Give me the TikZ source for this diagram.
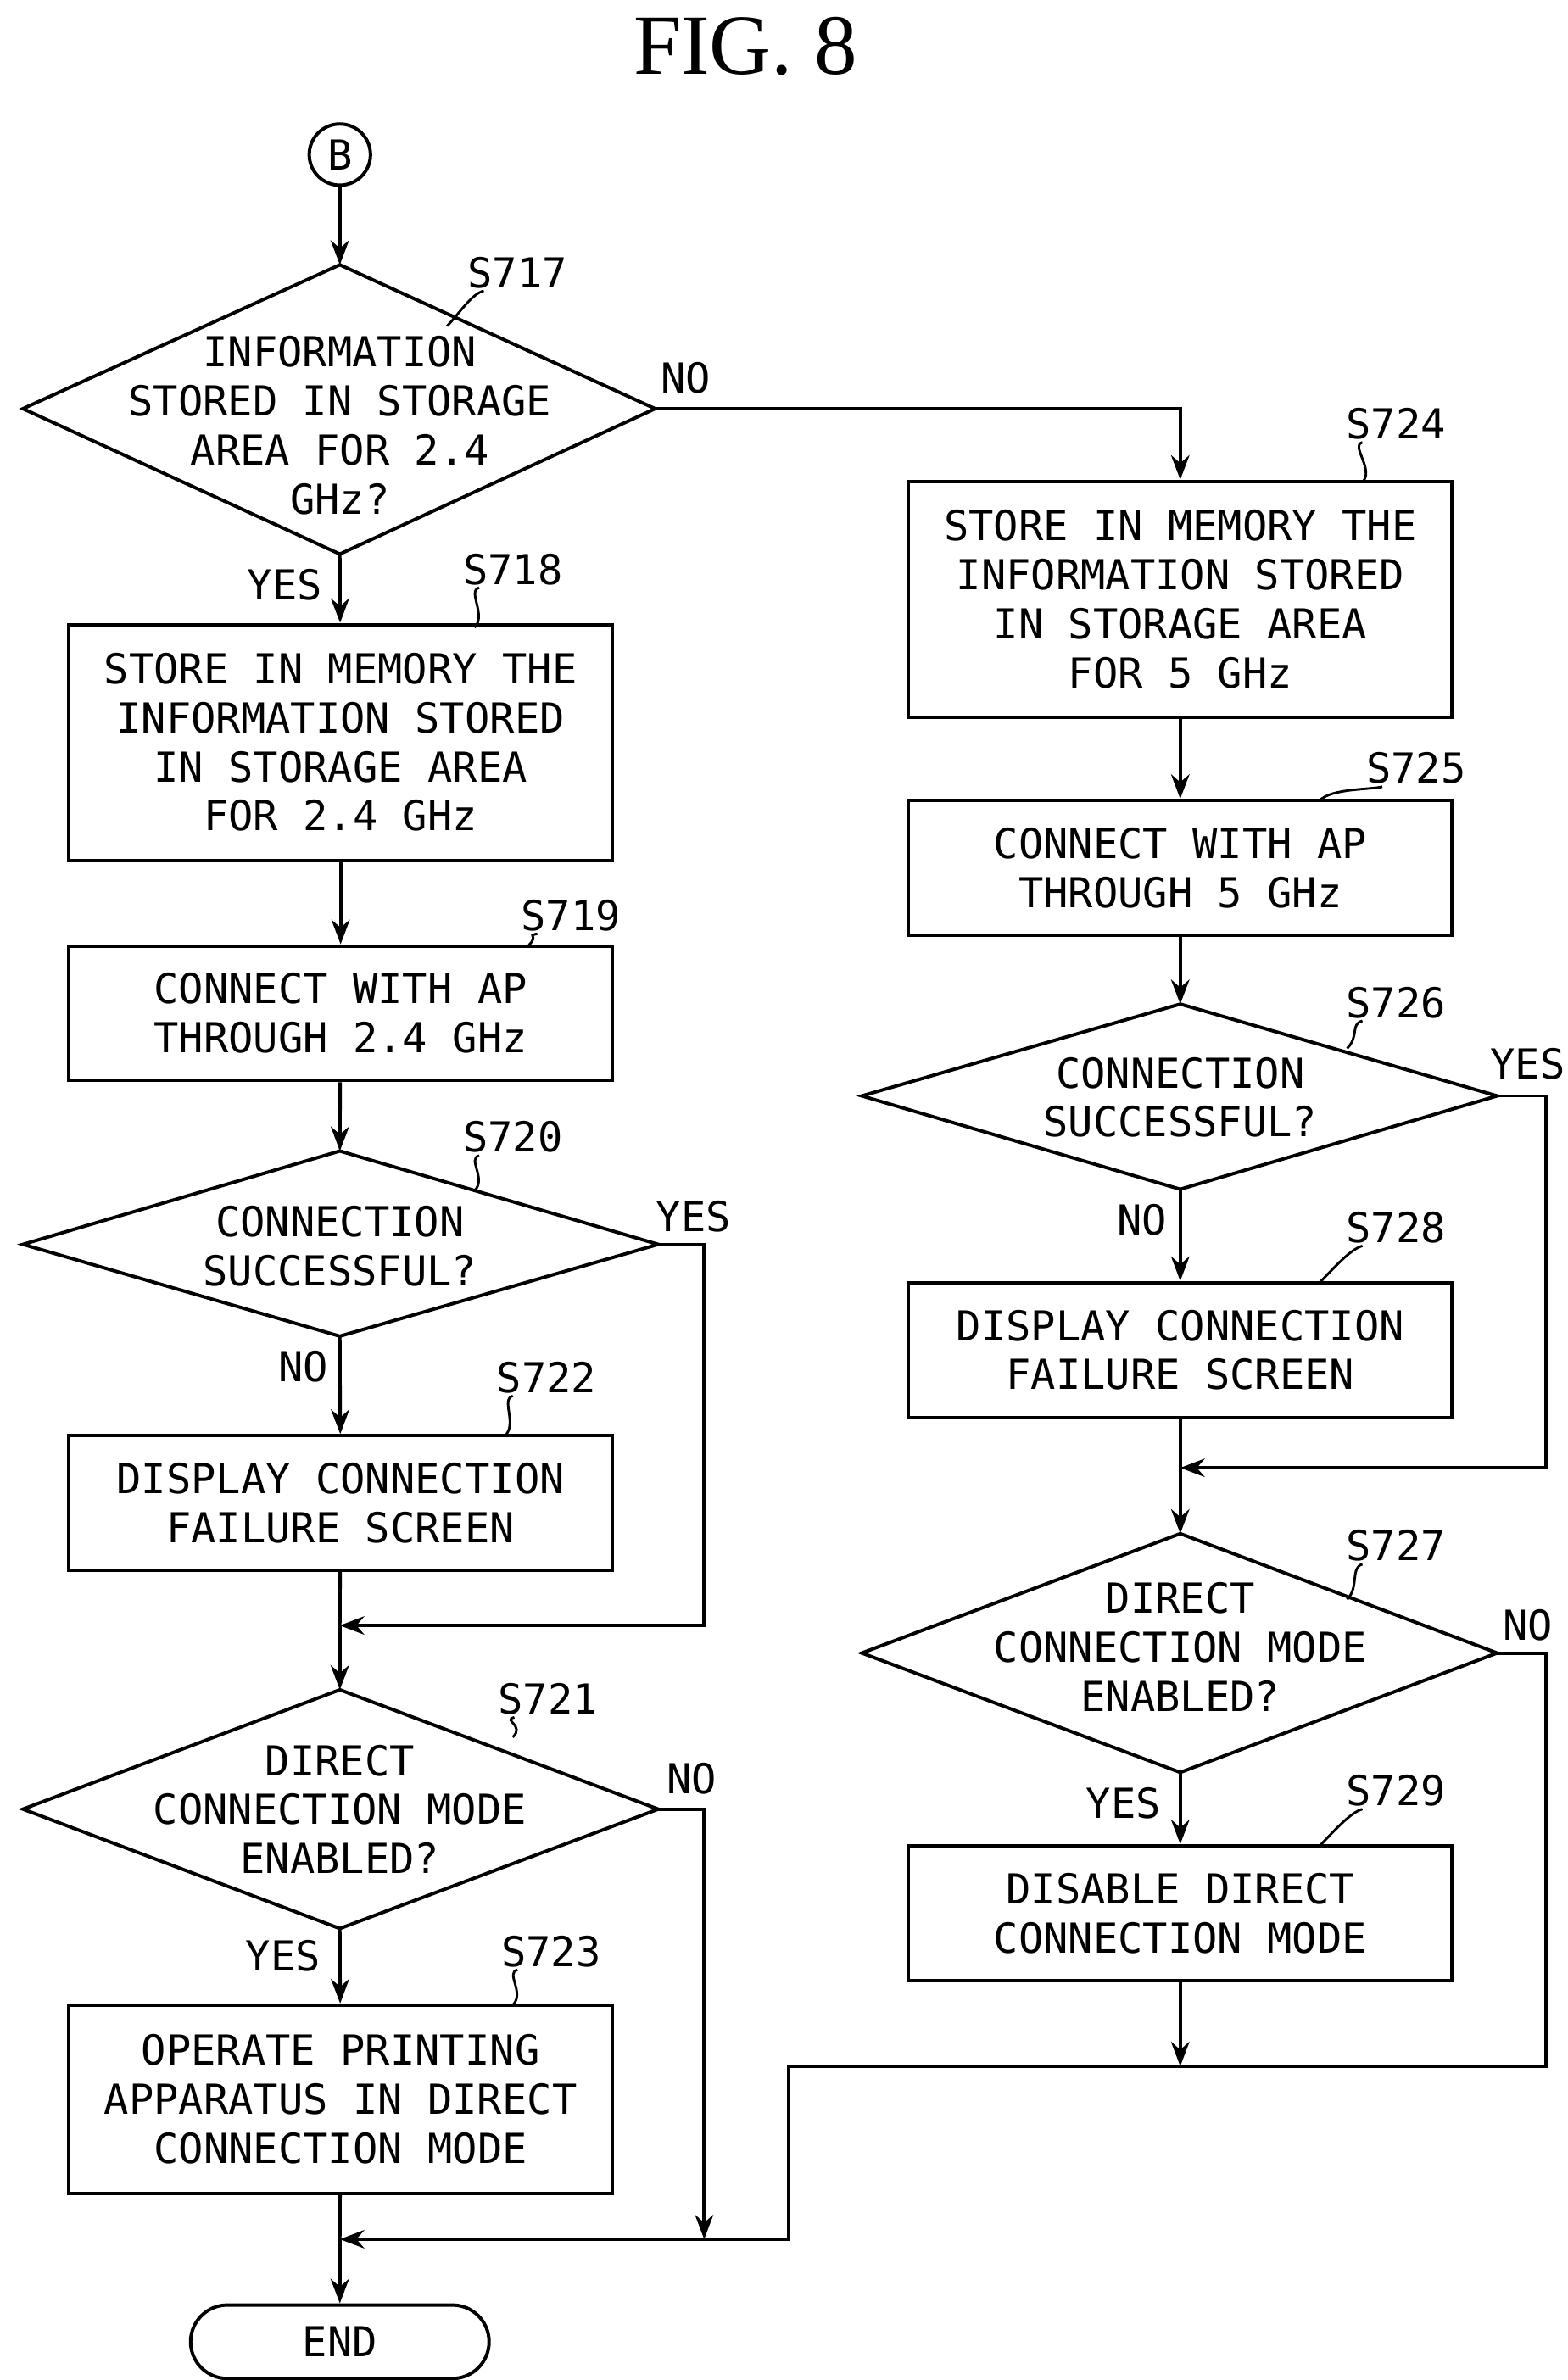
\documentclass[tikz,border=0pt]{standalone}
\usepackage{fontspec}
\setmainfont{DejaVu Sans Mono}
\newfontfamily\titlefont{Liberation Serif}
\usetikzlibrary{arrows.meta}
\begin{document}
\begin{tikzpicture}[x=0.5pt,y=-0.5pt,
  every node/.style={font=\fontsize{13.5}{16}\selectfont, align=center, inner sep=0},
  box/.style={draw, line width=1.1pt, minimum width=177.5pt},
  line/.style={line width=1.1pt},
  arr/.style={line width=1.1pt,-{Stealth[length=8pt,width=6pt]}},
  lbl/.style={font=\fontsize{13.5}{16}\selectfont},
  lead/.style={line width=0.8pt}]
\useasboundingbox (0,0) rectangle (1024,1555);
\node[font=\titlefont\fontsize{28}{30}\selectfont] (title) at (487,30) {FIG. 8};
% left column
\node[draw,circle,line width=1.1pt,minimum size=20pt] (B) at (222,101) {B};
\coordinate (d717t) at (222,173); \coordinate (d717b) at (222,362);
\coordinate (d717l) at (15,267); \coordinate (d717r) at (428,267);
\draw[line] (d717t)--(d717r)--(d717b)--(d717l)--cycle;
\node (t717) at (222,278) {INFORMATION\\STORED IN STORAGE\\AREA FOR 2.4\\GHz?};
\node[box,minimum height=77pt] (s718) at (222.5,485) {STORE IN MEMORY THE\\INFORMATION STORED\\IN STORAGE AREA\\FOR 2.4 GHz};
\node[box,minimum height=44pt] (s719) at (222.5,662) {CONNECT WITH AP\\THROUGH 2.4 GHz};
\coordinate (d720t) at (222,752); \coordinate (d720b) at (222,873);
\coordinate (d720l) at (15,813); \coordinate (d720r) at (430,813);
\draw[line] (d720t)--(d720r)--(d720b)--(d720l)--cycle;
\node (t720) at (222,814) {CONNECTION\\SUCCESSFUL?};
\node[box,minimum height=44pt] (s722) at (222.5,982) {DISPLAY CONNECTION\\FAILURE SCREEN};
\coordinate (d721t) at (222,1104); \coordinate (d721b) at (222,1260);
\coordinate (d721l) at (15,1182); \coordinate (d721r) at (430,1182);
\draw[line] (d721t)--(d721r)--(d721b)--(d721l)--cycle;
\node (t721) at (222,1182) {DIRECT\\CONNECTION MODE\\ENABLED?};
\node[box,minimum height=61.5pt] (s723) at (222.5,1371.5) {OPERATE PRINTING\\APPARATUS IN DIRECT\\CONNECTION MODE};
\node[draw,rounded corners=12pt,line width=1.1pt,minimum width=97.5pt,minimum height=24pt] (end) at (222,1530) {END};
% right column
\node[box,minimum height=77pt] (s724) at (771,391.5) {STORE IN MEMORY THE\\INFORMATION STORED\\IN STORAGE AREA\\FOR 5 GHz};
\node[box,minimum height=44pt] (s725) at (771,567) {CONNECT WITH AP\\THROUGH 5 GHz};
\coordinate (d726t) at (771,656); \coordinate (d726b) at (771,777);
\coordinate (d726l) at (563,716); \coordinate (d726r) at (978,716);
\draw[line] (d726t)--(d726r)--(d726b)--(d726l)--cycle;
\node (t726) at (771,717) {CONNECTION\\SUCCESSFUL?};
\node[box,minimum height=44pt] (s728) at (771,882) {DISPLAY CONNECTION\\FAILURE SCREEN};
\coordinate (d727t) at (771,1002); \coordinate (d727b) at (771,1158);
\coordinate (d727l) at (563,1080); \coordinate (d727r) at (978,1080);
\draw[line] (d727t)--(d727r)--(d727b)--(d727l)--cycle;
\node (t727) at (771,1076) {DIRECT\\CONNECTION MODE\\ENABLED?};
\node[box,minimum height=44pt] (s729) at (771,1250) {DISABLE DIRECT\\CONNECTION MODE};
% junctions
\coordinate (j1) at (222,1062); \coordinate (j2) at (222,1463);
\coordinate (j3) at (771,959); \coordinate (j4) at (771,1350);
% connectors left
\draw[arr] (B)--(d717t);
\draw[arr] (d717b)--(s718);
\draw[arr] (s718)--(s719);
\draw[arr] (s719)--(d720t);
\draw[arr] (d720b)--(s722);
\draw[arr] (d720r)--(460,813)--(460,1062)--(j1);
\draw[line] (s722)--(j1);
\draw[arr] (j1)--(d721t);
\draw[arr] (d721b)--(s723);
\draw[arr] (d721r)--(460,1182)--(460,1463);
\draw[line] (s723)--(j2);
\draw[arr] (j2)--(end);
% connectors right
\draw[arr] (d717r)--(771,267)--(s724);
\draw[arr] (s724)--(s725);
\draw[arr] (s725)--(d726t);
\draw[arr] (d726b)--(s728);
\draw[arr] (d726r)--(1010,716)--(1010,959)--(j3);
\draw[line] (s728)--(j3);
\draw[arr] (j3)--(d727t);
\draw[arr] (d727b)--(s729);
\draw[arr] (s729)--(j4);
\draw[arr] (d727r)--(1010,1080)--(1010,1350)--(515,1350)--(515,1463)--(j2);
% yes/no labels
\node (n1) at (448,247) {NO};
\node (y1) at (186,382) {YES};
\node (y2) at (453,795) {YES};
\node (n2) at (198,893) {NO};
\node (n3) at (452,1162) {NO};
\node (y3) at (185,1278) {YES};
\node (y4) at (998,695) {YES};
\node (n4) at (746,797) {NO};
\node (n5) at (998,1062) {NO};
\node (y5) at (734,1178) {YES};
% step labels with leaders
\foreach \n/\x/\y/\ax/\ay in {717/338/178/292/213, 718/335/372/310/410, 719/373/598/345/618,
  720/335/743/310/778, 722/357/900/330/938, 721/358/1110/335/1135, 723/360/1275/335/1310,
  724/912/277/890/315, 725/925/502/862/523, 726/912/655/880/685, 728/912/802/862/838,
  727/912/1010/880/1045, 729/912/1170/862/1206}{
  \node (L\n) at (\x,\y) {S\n};
  \draw[lead] (\x-22,\y+12) .. controls (\x-30,\y+14) and (\ax+8,\ay-8) .. (\ax,\ay);
}
\end{tikzpicture}
\end{document}
